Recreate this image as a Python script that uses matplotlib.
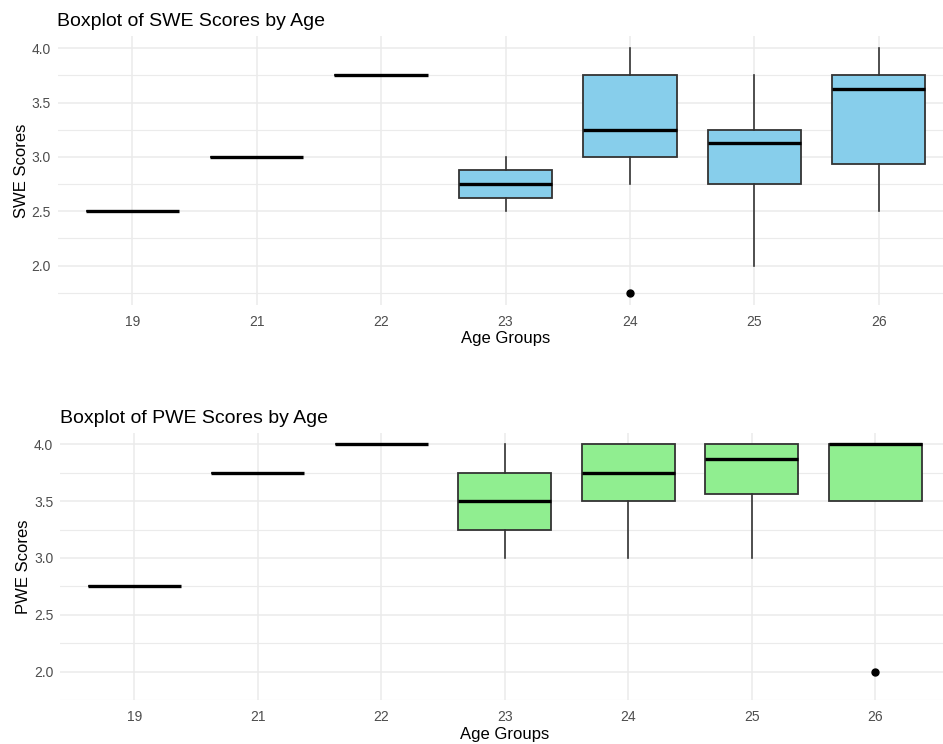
import matplotlib.pyplot as plt

plt.rcParams["font.family"] = ["Liberation Sans", "DejaVu Sans"]

ages = ["19", "21", "22", "23", "24", "25", "26"]

# SWE box stats per age group
swe_low = [2.5, 3.0, 3.75, 2.5, 2.75, 2.0, 2.5]
swe_q1 = [2.5, 3.0, 3.75, 2.625, 3.0, 2.75, 2.9375]
swe_med = [2.5, 3.0, 3.75, 2.75, 3.25, 3.125, 3.625]
swe_q3 = [2.5, 3.0, 3.75, 2.875, 3.75, 3.25, 3.75]
swe_high = [2.5, 3.0, 3.75, 3.0, 4.0, 3.75, 4.0]
swe_out = [[], [], [], [], [1.75], [], []]

# PWE box stats per age group
pwe_low = [2.75, 3.75, 4.0, 3.0, 3.0, 3.0, 3.5]
pwe_q1 = [2.75, 3.75, 4.0, 3.25, 3.5, 3.5625, 3.5]
pwe_med = [2.75, 3.75, 4.0, 3.5, 3.75, 3.875, 4.0]
pwe_q3 = [2.75, 3.75, 4.0, 3.75, 4.0, 4.0, 4.0]
pwe_high = [2.75, 3.75, 4.0, 4.0, 4.0, 4.0, 4.0]
pwe_out = [[], [], [], [], [], [], [2.0]]

grid_col = "#EBEBEB"
tick_col = "#4D4D4D"


def draw_panel(ax, low, q1, med, q3, high, out, fill, title, ylabel, ylim, title_x, title_y):
    stats = []
    for i in range(len(ages)):
        stats.append({"whislo": low[i], "q1": q1[i], "med": med[i], "q3": q3[i],
                      "whishi": high[i], "fliers": out[i], "label": ages[i]})
    ax.bxp(stats, positions=range(1, len(ages) + 1), widths=0.75, patch_artist=True,
           showcaps=False,
           boxprops=dict(facecolor=fill, edgecolor="#333333", linewidth=1.3),
           whiskerprops=dict(color="#333333", linewidth=1.2),
           medianprops=dict(color="black", linewidth=2.4, solid_capstyle="butt"),
           flierprops=dict(marker="o", markerfacecolor="black", markeredgecolor="black",
                           markersize=5))
    ax.set_xlim(0.4, 7.6)
    ax.set_ylim(*ylim)
    ax.set_yticks([2.0, 2.5, 3.0, 3.5, 4.0])
    ax.set_yticklabels(["2.0", "2.5", "3.0", "3.5", "4.0"])
    ax.set_yticks([1.75, 2.25, 2.75, 3.25, 3.75], minor=True)
    ax.grid(True, which="major", color=grid_col, linewidth=1.1)
    ax.grid(True, which="minor", axis="y", color=grid_col, linewidth=0.8)
    ax.set_axisbelow(True)
    for s in ax.spines.values():
        s.set_visible(False)
    ax.tick_params(which="both", length=0, labelsize=10, labelcolor=tick_col)
    ax.tick_params(axis="x", pad=7)
    ax.tick_params(axis="y", pad=5)
    ax.set_xlabel("Age Groups", fontsize=12, labelpad=2)
    ax.set_ylabel(ylabel, fontsize=12, labelpad=2)
    fig.text(title_x, title_y, title, fontsize=14, ha="left", va="baseline")


fig = plt.figure(figsize=(9.43, 7.44), dpi=100)

ax1 = fig.add_axes([57.7 / 943, (744 - 305) / 744, 895.6 / 943, 269 / 744])
draw_panel(ax1, swe_low, swe_q1, swe_med, swe_q3, swe_high, swe_out, "#87CEEB",
           "Boxplot of SWE Scores by Age", "SWE Scores", (1.6375, 4.1125),
           57 / 943, (744 - 26) / 744)

ax2 = fig.add_axes([60.2 / 943, (744 - 700) / 744, 889.2 / 943, 267 / 744])
draw_panel(ax2, pwe_low, pwe_q1, pwe_med, pwe_q3, pwe_high, pwe_out, "#90EE90",
           "Boxplot of PWE Scores by Age", "PWE Scores", (1.9, 4.1),
           60 / 943, (744 - 423) / 744)

fig.savefig("out.png", dpi=100, facecolor="white")
